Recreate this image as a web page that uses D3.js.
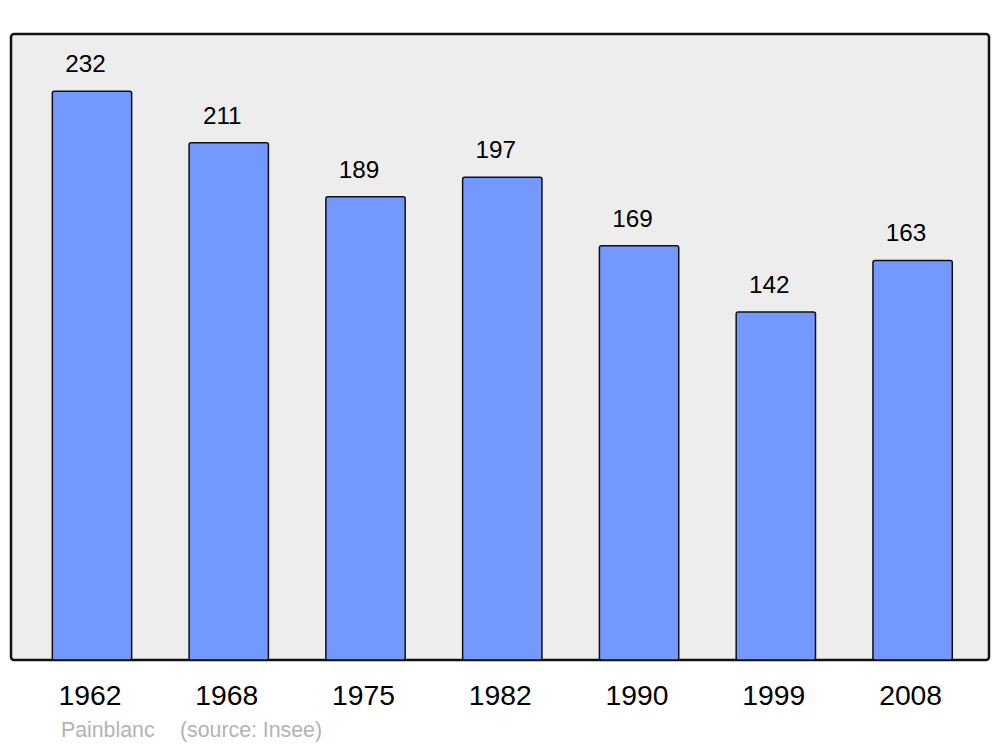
<!DOCTYPE html>
<html><head><meta charset="utf-8">
<script src="https://cdn.jsdelivr.net/npm/d3@7"></script>
<style>html,body{margin:0;padding:0;background:#fff}svg{display:block}</style>
</head><body>
<script>
const years = ["1962","1968","1975","1982","1990","1999","2008"];
const population = [232,211,189,197,169,142,163];
const town = "Painblanc";
const source = "(source: Insee)";

const W = 1000, H = 747;
const svg = d3.select("body").append("svg").attr("width", W).attr("height", H);
const font = "'Liberation Sans', Arial, sans-serif";

svg.append("rect").attr("x", 11).attr("y", 34).attr("width", 978).attr("height", 626)
  .attr("rx", 3).attr("fill", "#ededed").attr("stroke", "#111").attr("stroke-width", 2.5);

const x = d3.scaleBand().domain(years).range([23.6, 981]).paddingInner(0.42).paddingOuter(0.21);
const y = d3.scaleLinear().domain([0, 255]).range([660, 35]);

svg.selectAll("rect.bar").data(years).join("rect").attr("class","bar")
  .attr("x", d => x(d)).attr("width", x.bandwidth())
  .attr("y", (d,i) => y(population[i])).attr("height", (d,i) => y(0) - y(population[i]))
  .attr("rx", 2).attr("fill", "#7399ff").attr("stroke", "#111").attr("stroke-width", 1.5);

svg.selectAll("text.val").data(years).join("text").attr("class","val")
  .attr("x", d => x(d) + x.bandwidth()/2 - 6.5)
  .attr("y", (d,i) => y(population[i]) - 19)
  .attr("text-anchor", "middle").attr("font-family", font).attr("font-size", 24.3).attr("fill", "#000")
  .text((d,i) => population[i]);

const xAxis = d3.axisBottom(x).tickSize(0).tickPadding(0);
const gx = svg.append("g").attr("transform", "translate(-2,705)").call(xAxis);
gx.select(".domain").remove();
gx.selectAll("text").attr("dy", 0).attr("font-family", font).attr("font-size", 28.3).attr("fill", "#000");

svg.append("text").attr("x", 61).attr("y", 737).attr("font-family", font).attr("font-size", 21.3)
  .attr("fill", "#b3b3b3").text(town);
svg.append("text").attr("x", 180).attr("y", 737).attr("font-family", font).attr("font-size", 21.3)
  .attr("fill", "#b3b3b3").text(source);
</script>
</body></html>
